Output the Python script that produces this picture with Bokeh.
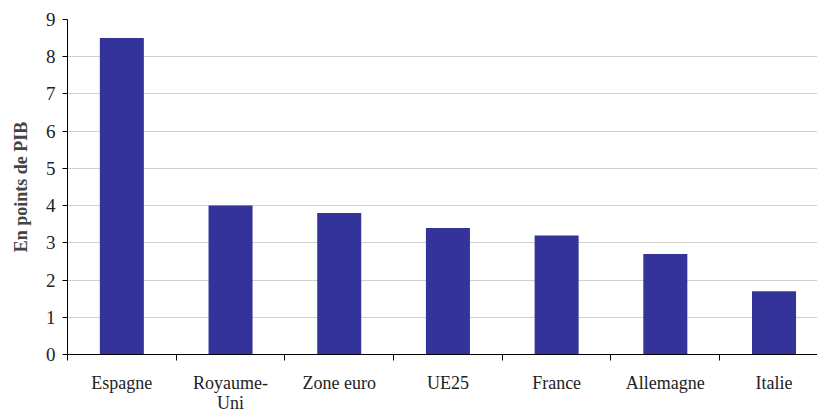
from bokeh.plotting import figure
from bokeh.models import Range1d, FixedTicker
from bokeh.embed import file_html
from bokeh.resources import INLINE

categories = ["Espagne", "Royaume-\nUni", "Zone euro", "UE25", "France", "Allemagne", "Italie"]
values = [8.5, 4.0, 3.8, 3.4, 3.2, 2.7, 1.7]
y_ticks = [0, 1, 2, 3, 4, 5, 6, 7, 8, 9]

centers = [i + 0.5 for i in range(len(categories))]
bounds = list(range(len(categories) + 1))

FONT = "Liberation Serif"

p = figure(frame_width=750, frame_height=335, output_backend="svg", toolbar_location=None,
           x_range=Range1d(0, 6.9), y_range=Range1d(0, 9),
           min_border_left=67, min_border_right=0, min_border_top=19, min_border_bottom=0)
p.outline_line_color = None
p.background_fill_color = "white"
p.border_fill_color = "white"

p.vbar(x=centers, top=values, width=0.405, bottom=0, color="#333399", line_color=None)

# y axis
p.yaxis.ticker = FixedTicker(ticks=y_ticks, minor_ticks=[])
p.yaxis.axis_label = "En points de PIB"
p.yaxis.axis_label_text_font = FONT
p.yaxis.axis_label_text_font_style = "bold"
p.yaxis.axis_label_text_font_size = "18px"
p.yaxis.axis_label_standoff = 12
p.yaxis.major_label_text_font = FONT
p.yaxis.major_label_text_font_size = "19px"
p.yaxis.major_label_text_color = "#222222"
p.yaxis.major_label_standoff = 7
p.yaxis.major_tick_out = 5
p.yaxis.major_tick_in = 0
p.yaxis.axis_line_color = "black"
p.yaxis.major_tick_line_color = "black"

# x axis
p.xaxis.ticker = FixedTicker(ticks=centers, minor_ticks=bounds)
p.xaxis.major_label_overrides = {c: lab for c, lab in zip(centers, categories)}
p.xaxis.major_label_text_font = FONT
p.xaxis.major_label_text_font_size = "18px"
p.xaxis.major_label_text_line_height = 1.0
p.xaxis.major_label_text_color = "#222222"
p.xaxis.major_label_standoff = 12
p.xaxis.major_tick_out = 0
p.xaxis.major_tick_in = 0
p.xaxis.major_tick_line_color = None
p.xaxis.minor_tick_out = 6
p.xaxis.minor_tick_in = 0
p.xaxis.minor_tick_line_color = "black"
p.xaxis.axis_line_color = "black"

p.xgrid.grid_line_color = None
p.ygrid.grid_line_color = "#cfcfcf"
p.ygrid.grid_line_width = 1

open("out.html", "w").write(file_html(p, INLINE))
